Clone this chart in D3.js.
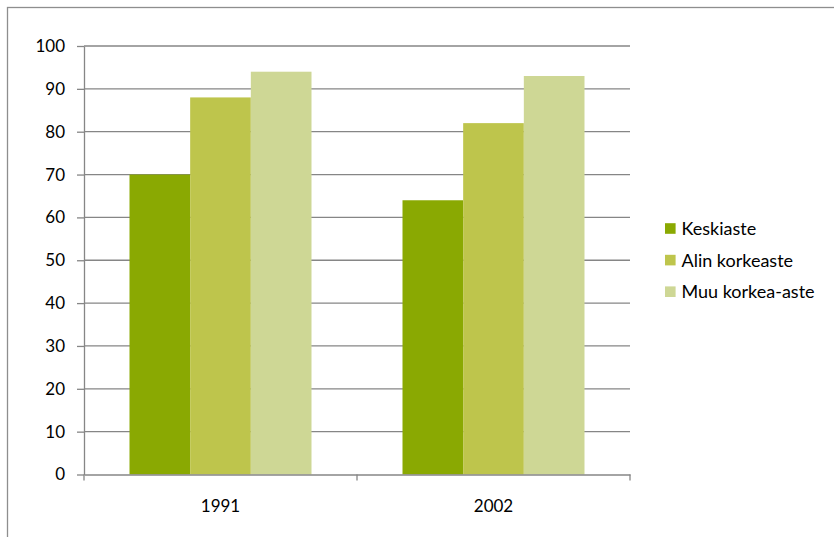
<!DOCTYPE html>
<html>
<head>
<meta charset="utf-8">
<script src="https://cdn.jsdelivr.net/npm/d3@7"></script>
<style>
  body { margin: 0; background: #fff; }
  text { font-family: Lato, "Open Sans", sans-serif; fill: #000; }
</style>
</head>
<body>
<div id="chart"></div>
<script>
// data
var years = ["1991", "2002"];
var seriesNames = ["Keskiaste", "Alin korkeaste", "Muu korkea-aste"];
var keskiaste = [70, 64];
var alinKorkeaste = [88, 82];
var muuKorkeaAste = [94, 93];
var yTicks = [0, 10, 20, 30, 40, 50, 60, 70, 80, 90, 100];

var colors = ["#8aa902", "#bec54c", "#ced795"];

var svgWidth = 834;
var svgHeight = 537;

var plot = { left: 84, right: 630, top: 46, bottom: 474.5 };

var svg = d3.select("#chart")
  .append("svg")
  .attr("width", svgWidth)
  .attr("height", svgHeight);

// chart area border (right and bottom fall outside the picture)
svg.append("rect")
  .attr("x", 7.5)
  .attr("y", 7.5)
  .attr("width", 900)
  .attr("height", 600)
  .attr("fill", "#fff")
  .attr("stroke", "#8e8e8e")
  .attr("stroke-width", 1.3);

var x0 = d3.scaleBand()
  .domain(years)
  .range([plot.left, plot.right]);

var x1 = d3.scaleBand()
  .domain(seriesNames)
  .range([0, x0.bandwidth()])
  .paddingOuter(0.75);

var y = d3.scaleLinear()
  .domain([0, 100])
  .range([plot.bottom, plot.top]);

// gridlines
svg.append("g")
  .selectAll("line")
  .data(yTicks.filter(d => d > 0))
  .enter()
  .append("line")
  .attr("x1", plot.left)
  .attr("x2", plot.right)
  .attr("y1", d => y(d))
  .attr("y2", d => y(d))
  .attr("stroke", "#868686")
  .attr("stroke-width", 1.3);

// bars
var rows = years.map(function (yr, i) {
  return { year: yr, values: [keskiaste[i], alinKorkeaste[i], muuKorkeaAste[i]] };
});

var groups = svg.append("g")
  .selectAll("g")
  .data(rows)
  .enter()
  .append("g")
  .attr("transform", d => `translate(${x0(d.year)},0)`);

groups.selectAll("rect")
  .data(d => d.values.map((v, j) => ({ name: seriesNames[j], value: v, idx: j })))
  .enter()
  .append("rect")
  .attr("x", d => x1(d.name))
  .attr("width", x1.bandwidth())
  .attr("y", d => y(d.value))
  .attr("height", d => y(0) - y(d.value))
  .attr("fill", d => colors[d.idx]);

// y axis
var leftAxis = d3.axisLeft(y)
  .tickValues(yTicks)
  .tickSize(7)
  .tickSizeOuter(0)
  .tickPadding(12);

var yAxis = svg.append("g")
  .attr("transform", `translate(${plot.left},0)`)
  .call(leftAxis);

yAxis.selectAll("path, line")
  .attr("stroke", "#868686")
  .attr("stroke-width", 1.3);
yAxis.selectAll("text")
  .attr("font-size", "17px")
  .attr("font-family", "Lato, sans-serif")
  .attr("fill", "#000");

// x axis
var bottomAxis = d3.axisBottom(x0)
  .tickSize(0)
  .tickSizeOuter(0);

var xAxis = svg.append("g")
  .attr("transform", `translate(0,${plot.bottom})`)
  .call(bottomAxis);

xAxis.select("path")
  .attr("stroke", "#868686")
  .attr("stroke-width", 1.3);
xAxis.selectAll("text")
  .attr("y", 37.5)
  .attr("dy", 0)
  .attr("font-size", "17px")
  .attr("font-family", "Lato, sans-serif")
  .attr("fill", "#000");

// category boundary ticks
var bounds = years.map(d => x0(d)).concat([x0(years[years.length - 1]) + x0.bandwidth()]);
xAxis.selectAll(".bound")
  .data(bounds)
  .enter()
  .append("line")
  .attr("class", "bound")
  .attr("x1", d => d)
  .attr("x2", d => d)
  .attr("y1", 0)
  .attr("y2", 6)
  .attr("stroke", "#868686")
  .attr("stroke-width", 1.3);

// legend
var legend = svg.append("g")
  .attr("transform", "translate(665,228.5)");

var items = legend.selectAll("g")
  .data(seriesNames)
  .enter()
  .append("g")
  .attr("transform", (d, i) => `translate(0,${i * 31.6})`);

items.append("rect")
  .attr("x", 0)
  .attr("y", -5.3)
  .attr("width", 10.6)
  .attr("height", 10.6)
  .attr("fill", (d, i) => colors[i]);

items.append("text")
  .attr("x", 16.5)
  .attr("y", 6.5)
  .attr("font-size", "18px")
  .text(d => d);
</script>
</body>
</html>
